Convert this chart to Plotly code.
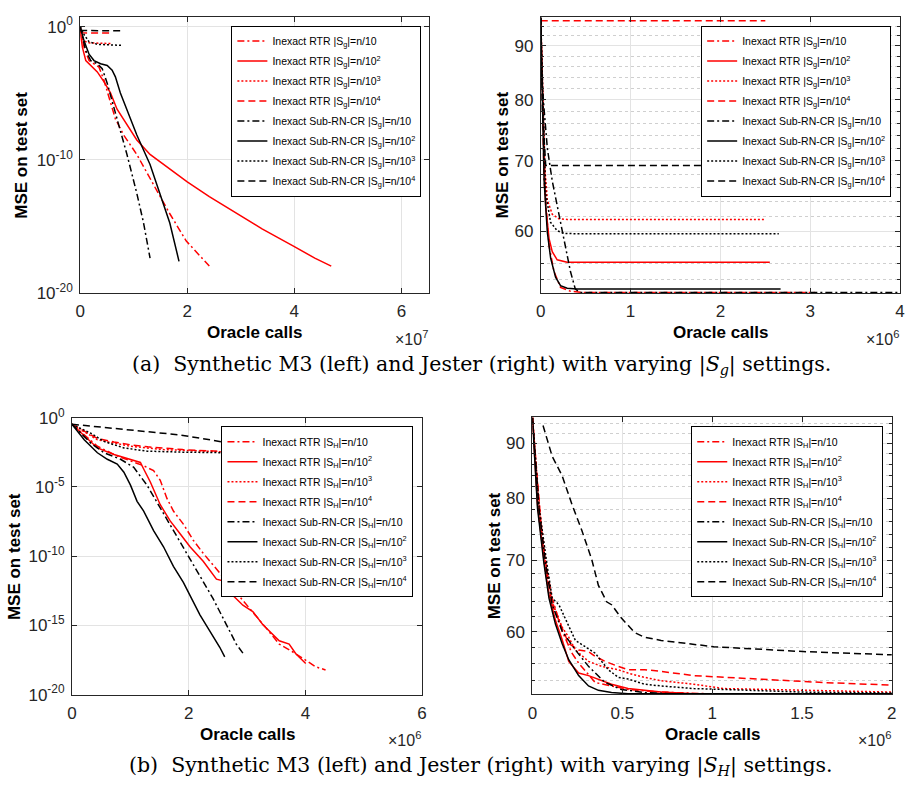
import numpy as np
import plotly.graph_objects as go

W, H = 911, 796
FONT = "Liberation Sans, Arial, Helvetica, sans-serif"
SERIF = "DejaVu Serif, serif"

# ---------------- legend labels ----------------
labels_g = [
    "Inexact RTR |S<sub>g</sub>|=n/10",
    "Inexact RTR |S<sub>g</sub>|=n/10<sup>2</sup>",
    "Inexact RTR |S<sub>g</sub>|=n/10<sup>3</sup>",
    "Inexact RTR |S<sub>g</sub>|=n/10<sup>4</sup>",
    "Inexact Sub-RN-CR |S<sub>g</sub>|=n/10",
    "Inexact Sub-RN-CR |S<sub>g</sub>|=n/10<sup>2</sup>",
    "Inexact Sub-RN-CR |S<sub>g</sub>|=n/10<sup>3</sup>",
    "Inexact Sub-RN-CR |S<sub>g</sub>|=n/10<sup>4</sup>",
]
labels_h = [s.replace("<sub>g</sub>", "<sub>H</sub>") for s in labels_g]

# ---------------- (a) left: Synthetic M3, varying |S_g| ----------------
# x in units of 1e7 oracle calls, y given as log10(MSE)
a_left_x = [
    [0, 0.074, 0.166, 0.258, 0.351, 0.443, 0.535, 0.658, 0.812, 1.058, 1.458, 1.674, 1.982, 2.412],
    [0, 0.043, 0.105, 0.197, 0.32, 0.443, 0.566, 0.689, 0.874, 1.058, 1.305, 1.674, 2.0, 2.412, 2.905, 3.397, 4.0, 4.382, 4.689],
    [0, 0.05, 0.14, 0.57],
    [0, 0.05, 0.57],
    [0, 0.105, 0.197, 0.32, 0.412, 0.505, 0.689, 0.874, 1.058, 1.182, 1.305],
    [0, 0.074, 0.166, 0.258, 0.382, 0.505, 0.597, 0.658, 0.751, 0.874, 1.058, 1.305, 1.49, 1.674, 1.846],
    [0, 0.074, 0.166, 0.32, 0.78],
    [0, 0.75],
]
a_left_logy = [
    [0, -1.58, -2.55, -2.79, -3.04, -4.01, -5.22, -6.93, -8.14, -9.60, -12.5, -14.05, -16.1, -17.98],
    [-0.36, -1.58, -2.55, -2.92, -3.40, -4.13, -4.98, -6.20, -7.41, -8.51, -9.60, -10.69, -11.66, -12.76, -13.97, -15.19, -16.52, -17.38, -17.98],
    [0, -1.0, -1.22, -1.27],
    [-0.42, -0.47, -0.49],
    [0, -1.82, -2.55, -2.79, -3.16, -4.25, -6.93, -9.60, -12.52, -14.70, -17.38],
    [0, -1.09, -2.07, -2.55, -2.79, -2.92, -3.28, -3.77, -4.98, -6.20, -8.14, -10.35, -12.55, -14.75, -17.62],
    [0, -0.61, -1.14, -1.33, -1.41],
    [-0.29, -0.32],
]

# ---------------- (a) right: Jester, varying |S_g| ----------------
# x in units of 1e6 oracle calls, y = MSE
a_right_x = [
    [0, 0.037, 0.092, 0.147, 0.22, 0.33, 0.477, 3.05],
    [0, 0.055, 0.092, 0.128, 0.183, 0.294, 2.55],
    [0, 0.037, 0.073, 0.128, 0.2, 0.294, 2.5],
    [0, 2.5],
    [0, 0.007, 0.037, 0.073, 0.128, 0.2, 0.275, 0.33, 0.385, 0.44, 4.0],
    [0, 0.037, 0.073, 0.11, 0.165, 0.22, 0.294, 0.404, 2.67],
    [0, 0.055, 0.11, 0.183, 0.257, 0.4, 2.65],
    [0, 0.018, 0.055, 2.6],
]
a_right_y = [
    [95.6, 67.1, 58.2, 55.0, 53.1, 52.65, 52.5, 52.5],
    [95.6, 63.4, 59.1, 57.4, 56.4, 56.1, 56.1],
    [95.6, 70.5, 64.3, 62.3, 61.7, 61.6, 61.6],
    [95.1, 95.1],
    [95.6, 85.0, 78.4, 72.0, 67.0, 62.5, 58.2, 55.0, 52.9, 52.5, 52.5],
    [95.6, 67.1, 59.9, 56.6, 54.3, 53.3, 53.0, 52.9, 52.9],
    [95.6, 65.2, 61.2, 60.1, 59.75, 59.7, 59.7],
    [95.9, 78.4, 69.3, 69.3],
]

# ---------------- (b) left: Synthetic M3, varying |S_H| ----------------
# x in units of 1e6 oracle calls, y given as log10(MSE)
b_left_x = [
    [0, 0.436, 0.776, 1.003, 1.229, 1.399, 1.513, 1.626, 1.739, 1.909, 2.079, 2.249, 2.533, 2.816, 3.099, 3.326, 3.552, 3.836, 4.176, 4.346],
    [0, 0.436, 0.72, 1.003, 1.173, 1.229, 1.343, 1.513, 1.683, 1.853, 2.023, 2.249, 2.476, 2.589, 2.703, 2.929, 3.099, 3.269, 3.552, 3.722, 3.836, 4.006],
    [0, 0.436, 0.72, 1.003, 1.569, 2.136, 2.703, 3.5],
    [0, 0.436, 0.72, 1.003, 1.3, 1.569, 1.9, 2.136, 2.4, 2.703, 3.5],
    [0, 0.323, 0.55, 0.833, 1.059, 1.286, 1.513, 1.739, 1.966, 2.193, 2.419, 2.646, 2.816, 2.958],
    [0, 0.21, 0.436, 0.606, 0.776, 0.89, 1.003, 1.116, 1.229, 1.399, 1.569, 1.739, 1.909, 2.079, 2.193, 2.363, 2.533, 2.618],
    [0, 0.323, 0.55, 0.89, 1.286, 1.853, 2.703, 3.5],
    [0, 1.003, 1.853, 2.703, 3.4, 4.0],
]
b_left_logy = [
    [-0.47, -2.06, -2.76, -3.11, -3.47, -3.82, -4.52, -5.81, -6.74, -7.68, -8.85, -9.79, -11.19, -12.60, -14.00, -15.18, -16.35, -17.05, -17.99, -18.22],
    [-0.47, -2.18, -2.65, -3.00, -3.23, -3.70, -4.64, -6.28, -7.45, -8.38, -9.32, -10.37, -11.66, -11.78, -12.60, -13.54, -14.00, -14.94, -16.11, -16.35, -17.05, -17.75],
    [-0.47, -1.59, -1.83, -2.06, -2.30, -2.41, -2.48, -2.52],
    [-0.47, -1.50, -1.75, -1.95, -2.10, -2.20, -2.30, -2.35, -2.40, -2.45, -2.50],
    [-0.47, -1.83, -2.53, -3.00, -3.58, -4.87, -6.51, -8.15, -9.79, -11.43, -13.07, -14.94, -16.35, -17.17],
    [-0.47, -1.59, -2.53, -3.00, -3.35, -3.93, -4.87, -6.04, -6.74, -8.15, -9.32, -10.73, -11.90, -13.30, -14.24, -15.41, -16.58, -17.28],
    [-0.47, -1.12, -1.71, -2.18, -2.41, -2.48, -2.53, -2.55],
    [-0.47, -0.89, -1.24, -1.83, -1.95, -2.05],
]

# ---------------- (b) right: Jester, varying |S_H| ----------------
# x in units of 1e6 oracle calls, y = MSE
b_right_x = [
    [0, 0.037, 0.073, 0.11, 0.165, 0.22, 0.257, 0.349, 0.532, 0.716, 1.0, 2.0],
    [0, 0.028, 0.064, 0.092, 0.128, 0.165, 0.202, 0.257, 0.312, 0.367, 0.44, 0.532, 0.716, 0.899, 2.0],
    [0, 0.037, 0.073, 0.11, 0.165, 0.202, 0.239, 0.312, 0.385, 0.477, 0.532, 0.624, 0.716, 0.899, 1.064, 2.0],
    [0, 0.055, 0.11, 0.165, 0.202, 0.257, 0.312, 0.349, 0.404, 0.477, 0.532, 0.624, 0.716, 0.899, 1.248, 1.615, 2.0],
    [0, 0.037, 0.073, 0.11, 0.165, 0.239, 0.312, 0.404, 0.495, 0.624, 0.8, 2.0],
    [0, 0.028, 0.064, 0.092, 0.128, 0.165, 0.202, 0.257, 0.312, 0.367, 0.44, 0.532, 2.0],
    [0, 0.037, 0.083, 0.11, 0.147, 0.183, 0.239, 0.294, 0.349, 0.422, 0.477, 0.532, 0.624, 0.716, 0.899, 1.064, 1.505, 2.0],
    [0.059, 0.11, 0.165, 0.22, 0.275, 0.33, 0.367, 0.413, 0.44, 0.495, 0.569, 0.624, 0.716, 1.009, 1.505, 2.0],
]
b_right_y = [
    [95.1, 78.3, 69.5, 64.5, 60.1, 57.3, 56.1, 53.8, 53.0, 52.7, 52.5, 52.5],
    [95.1, 79.0, 70.0, 65.0, 61.5, 59.0, 56.3, 54.9, 54.6, 54.2, 53.6, 53.1, 52.7, 52.5, 52.5],
    [95.1, 79.0, 70.0, 64.0, 60.6, 59.3, 57.7, 56.3, 55.7, 55.3, 54.9, 54.4, 54.0, 53.6, 53.1, 52.7],
    [95.1, 73.0, 63.6, 60.6, 58.5, 57.7, 57.5, 56.9, 56.3, 55.7, 55.3, 55.3, 55.1, 54.6, 54.2, 53.8, 53.5],
    [95.1, 78.0, 69.5, 63.6, 60.1, 57.7, 55.7, 53.8, 53.0, 52.65, 52.5, 52.5],
    [95.1, 78.3, 69.5, 64.5, 61.0, 58.5, 56.5, 54.6, 53.4, 52.9, 52.65, 52.5, 52.5],
    [95.1, 78.3, 69.0, 64.5, 63.6, 61.8, 58.9, 58.1, 57.3, 55.3, 54.4, 54.2, 53.6, 53.4, 53.1, 53.0, 52.7, 52.6],
    [93.5, 87.5, 83.95, 78.9, 74.6, 70.1, 66.3, 64.0, 63.6, 61.8, 59.9, 59.3, 58.9, 58.1, 57.5, 57.1],
]

# ---------------- styling ----------------
COLORS = ["#ff0000"] * 4 + ["#000000"] * 4
DASHES = ["7px,3px,2px,3px", "solid", "2px,2px", "7px,4px"] * 2
LW = 1.5


def px_x(p):
    return p / W


def px_y(p):
    return 1 - p / H


# panel pixel boxes: (left, right, top, bottom)
boxes = {
    "a_l": (76, 429, 5, 289),
    "a_r": (541.7, 905, 5, 289),
    "b_l": (67.7, 421.7, 417.3, 702),
    "b_r": (533.3, 896.7, 416.7, 701.7),
}

fig = go.Figure()

panels = [
    ("a_l", "x", "y", "legend", a_left_x, [list(np.power(10.0, v)) for v in a_left_logy], labels_g),
    ("a_r", "x2", "y2", "legend2", a_right_x, a_right_y, labels_g),
    ("b_l", "x3", "y3", "legend3", b_left_x, [list(np.power(10.0, v)) for v in b_left_logy], labels_h),
    ("b_r", "x4", "y4", "legend4", b_right_x, b_right_y, labels_h),
]

for key, xa, ya, leg, xs, ys, labs in panels:
    for i in range(8):
        fig.add_trace(go.Scatter(
            x=xs[i], y=ys[i], mode="lines", name=labs[i],
            line=dict(color=COLORS[i], width=LW, dash=DASHES[i]),
            xaxis=xa, yaxis=ya, legend=leg, legendgroup=f"{key}{i}",
            showlegend=True,
        ))

AXCOL = "#262626"
GRID = "#e3e3e3"
MINORGRID = "#cfcfcf"
tickfont = dict(family=FONT, size=17, color=AXCOL)

common_x = dict(showline=True, linecolor=AXCOL, linewidth=1, mirror="ticks",
                ticks="inside", ticklen=5, tickcolor=AXCOL, showgrid=True,
                gridcolor=GRID, gridwidth=1, zeroline=False, tickfont=tickfont,
                ticklabelstandoff=3)
common_y = dict(showline=True, linecolor=AXCOL, linewidth=1, mirror="ticks",
                ticks="inside", ticklen=5, tickcolor=AXCOL, showgrid=True,
                gridcolor=GRID, gridwidth=1, zeroline=False, tickfont=tickfont,
                ticklabelstandoff=3)

def dom(key):
    l, r, t, b = boxes[key]
    return [px_x(l), px_x(r)], [px_y(b), px_y(t)]

minor_jester = [54, 56, 58, 62, 64, 66, 68, 72, 74, 76, 78, 82, 84, 86, 88, 92, 94]
minor_cfg = dict(tickmode="array", tickvals=minor_jester, ticks="inside", ticklen=3,
                 tickcolor=AXCOL, showgrid=True, gridcolor=MINORGRID, griddash="dot", gridwidth=1)

d = dom("a_l")
fig.update_layout(
    xaxis=dict(domain=d[0], anchor="y", range=[0, 6.52], tickmode="array",
               tickvals=[0, 2, 4, 6], ticktext=["0", "2", "4", "6"], **common_x),
    yaxis=dict(domain=d[1], anchor="x", type="log", range=[-20, 0.73], tickmode="array",
               tickvals=[1e-20, 1e-10, 1], ticktext=["10<sup>-20</sup>", "10<sup>-10</sup>", "10<sup>0</sup>"],
               **common_y),
)
d = dom("a_r")
fig.update_layout(
    xaxis2=dict(domain=d[0], anchor="y2", range=[0, 4], tickmode="array",
                tickvals=[0, 1, 2, 3, 4], ticktext=["0", "1", "2", "3", "4"], **common_x),
    yaxis2=dict(domain=d[1], anchor="x2", type="log", range=[np.log10(52.45), np.log10(95.9)],
                tickmode="array", tickvals=[60, 70, 80, 90], ticktext=["60", "70", "80", "90"],
                minor=minor_cfg, **common_y),
)
d = dom("b_l")
fig.update_layout(
    xaxis3=dict(domain=d[0], anchor="y3", range=[0, 6], tickmode="array",
                tickvals=[0, 2, 4, 6], ticktext=["0", "2", "4", "6"], **common_x),
    yaxis3=dict(domain=d[1], anchor="x3", type="log", range=[-20, 0], tickmode="array",
                tickvals=[1e-20, 1e-15, 1e-10, 1e-5, 1],
                ticktext=["10<sup>-20</sup>", "10<sup>-15</sup>", "10<sup>-10</sup>", "10<sup>-5</sup>", "10<sup>0</sup>"],
                **common_y),
)
d = dom("b_r")
fig.update_layout(
    xaxis4=dict(domain=d[0], anchor="y4", range=[0, 2], tickmode="array",
                tickvals=[0, 0.5, 1, 1.5, 2], ticktext=["0", "0.5", "1", "1.5", "2"], **common_x),
    yaxis4=dict(domain=d[1], anchor="x4", type="log", range=[np.log10(52.45), np.log10(95.2)],
                tickmode="array", tickvals=[60, 70, 80, 90], ticktext=["60", "70", "80", "90"],
                minor=minor_cfg, **common_y),
)

leg_common = dict(bgcolor="white", bordercolor="black", borderwidth=1,
                  font=dict(family=FONT, size=10.5, color="black"),
                  xanchor="right", yanchor="top", traceorder="grouped",
                  tracegroupgap=1, itemwidth=30, xref="paper", yref="paper")
fig.update_layout(
    legend=dict(x=px_x(421), y=px_y(14), **leg_common),
    legend2=dict(x=px_x(896), y=px_y(14), **leg_common),
    legend3=dict(x=px_x(413), y=px_y(426), **leg_common),
    legend4=dict(x=px_x(888), y=px_y(426), **leg_common),
)

annotations = []
title_font = dict(family=FONT, size=17, color="black")
for key, exp in [("a_l", 7), ("a_r", 6), ("b_l", 6), ("b_r", 6)]:
    l, r, t, b = boxes[key]
    annotations.append(dict(text="<b>Oracle calls</b>", x=px_x((l + r) / 2), y=px_y(b + 41),
                            xref="paper", yref="paper", showarrow=False, font=title_font,
                            xanchor="center", yanchor="middle"))
    annotations.append(dict(text=f"×10<sup>{exp}</sup>", x=px_x(r + 1), y=px_y(b + 46),
                            xref="paper", yref="paper", showarrow=False,
                            font=dict(family=FONT, size=16, color=AXCOL),
                            xanchor="right", yanchor="middle"))
ytitle_x = {"a_l": 17, "a_r": 503, "b_l": 9, "b_r": 495}
for key, xpx in ytitle_x.items():
    l, r, t, b = boxes[key]
    annotations.append(dict(text="<b>MSE on test set</b>", x=px_x(xpx), y=px_y((t + b) / 2),
                            xref="paper", yref="paper", showarrow=False, font=title_font,
                            textangle=-90, xanchor="center", yanchor="middle"))

cap_font = dict(family=SERIF, size=20.5, color="black")
annotations.append(dict(text="(a)  Synthetic M3 (left) and Jester (right) with varying |<i>S<sub>g</sub></i>| settings.",
                        x=px_x(482), y=px_y(363), xref="paper", yref="paper", showarrow=False,
                        font=cap_font, xanchor="center", yanchor="middle"))
annotations.append(dict(text="(b)  Synthetic M3 (left) and Jester (right) with varying |<i>S<sub>H</sub></i>| settings.",
                        x=px_x(481), y=px_y(775), xref="paper", yref="paper", showarrow=False,
                        font=cap_font, xanchor="center", yanchor="middle"))

fig.update_layout(
    width=W, height=H, margin=dict(l=0, r=0, t=0, b=0),
    paper_bgcolor="white", plot_bgcolor="white",
    annotations=annotations,
)

fig.write_html("out.html")
